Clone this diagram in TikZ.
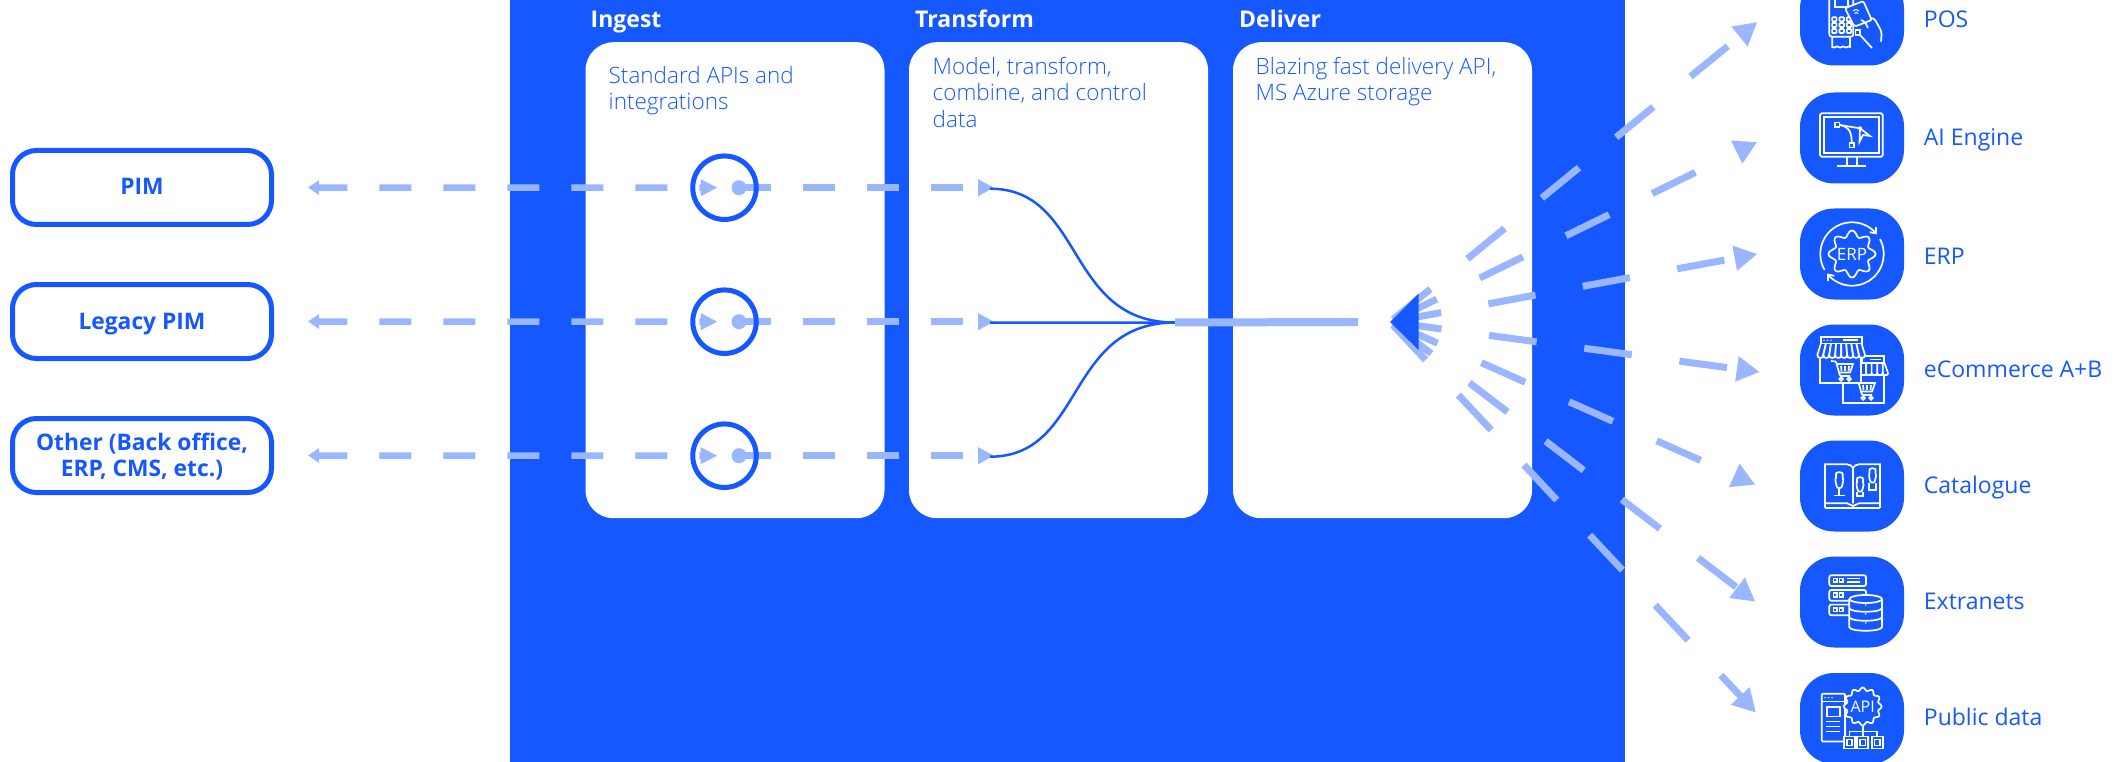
\documentclass[tikz,border=0pt]{standalone}
\usepackage{fontspec}
\setmainfont{Open Sans}
\newfontfamily\thinfont{Open Sans Light}
\usepackage{xcolor}
\usepackage{tikz}
\usetikzlibrary{arrows.meta}
\usetikzlibrary{positioning}
\definecolor{brandblue}{HTML}{1558FF}
\definecolor{flowblue}{HTML}{9AB6FF}
\tikzstyle{panel} = [rectangle, fill=brandblue, inner sep=0pt, minimum width=1115pt, minimum height=762pt]
\tikzstyle{stage} = [rectangle, fill=white, rounded corners=28pt, inner sep=0pt,
    minimum width=299pt, minimum height=476pt]
\tikzstyle{stagehead} = [anchor=base west, inner sep=0pt, text=white, font=\fontsize{23}{26}\selectfont\bfseries]
\tikzstyle{stagetext} = [anchor=north west, inner sep=0pt, align=left, text=brandblue,
    font=\fontsize{22.5}{26.5}\selectfont\thinfont]
\tikzstyle{source} = [rectangle, draw=brandblue, line width=5pt, fill=white, rounded corners=24pt,
    minimum width=259pt, minimum height=74pt, inner sep=0pt, align=center, text=brandblue,
    text depth=2pt, font=\fontsize{22.8}{26}\selectfont\bfseries]
\tikzstyle{port} = [circle, draw=brandblue, line width=5pt, minimum size=63.5pt, inner sep=0pt]
\tikzstyle{dot} = [circle, fill=flowblue, minimum size=15pt, inner sep=0pt]
\tikzstyle{inflow} = [draw=flowblue, line width=6.5pt, dash pattern=on 32pt off 32pt, dash phase=3pt,
    shorten <=35pt, shorten >=21.5pt, {Triangle[length=11pt,width=14pt]}-{Triangle[length=17pt,width=16pt]}]
\tikzstyle{outflow} = [draw=flowblue, line width=6.5pt, dash pattern=on 32pt off 32pt,
    -{Triangle[length=16pt,width=16pt]}]
\tikzstyle{wire} = [draw=brandblue, line width=2.5pt]
\tikzstyle{trunk} = [draw=flowblue, line width=8pt]
\tikzstyle{ray} = [draw=flowblue, line width=7pt, dash pattern=on 48pt off 48pt, shorten <=4pt,
    -{Triangle[length=23pt,width=24pt]}]
\tikzstyle{icon} = [rectangle, fill=brandblue, rounded corners=34pt, minimum width=104pt,
    minimum height=91pt, inner sep=0pt]
\tikzstyle{tag} = [anchor=west, inner sep=0pt, text height=17pt, text depth=3pt, text=brandblue,
    font=\fontsize{23}{26}\selectfont]
\tikzstyle{glyph} = [draw=white, line width=1.7pt]
% small white drawings inside the icons
\newcommand{\posglyph}{
  \draw [rounded corners=2.5pt] (-22.7,-40) rectangle (1.3,16.7);
  \draw (-17,-26) rectangle (-4,-13);
  \foreach \bx in {-17.7,-10.3,-3}
    \foreach \by in {-.7,5,11}
      \draw [rounded corners=.8pt] (\bx-2.2,\by-2) rectangle (\bx+2.2,\by+2);
  \draw (-19.7,16.7) -- (-19.7,27) .. controls (-17,29) and (-16,25) .. (-13.5,27)
    .. controls (-11,29) and (-10,25) .. (-7.5,27) .. controls (-5,29) and (-4,25) .. (-2,27) -- (-2,16.7);
  \filldraw [fill=brandblue, rounded corners=2pt] (-7,-11.7) -- (11.3,-19) -- (19.7,0) -- (2.3,6.7) -- cycle;
  \draw [line width=1pt] (1,-9) .. controls (3,-11) and (5,-11) .. (7,-9);
  \draw [line width=1pt] (2.5,-6.5) .. controls (3.5,-8) and (5,-8) .. (6,-6.5);
  \draw [rounded corners=3pt] (19,-2) -- (22,-2) -- (29.7,11.7) -- (29,21.7);
  \draw [rounded corners=2pt] (9,0) -- (13,2) -- (16,8);
  \draw (3.5,10) rectangle (8,15);
  \draw [rounded corners=2pt] (8,15) -- (20,28);
}
\newcommand{\monitorglyph}{
  \draw [rounded corners=1.5pt] (-32,-24.7) rectangle (30.7,18.7);
  \draw (-28,-20.7) rectangle (26.7,14.7);
  \draw (-5.3,18.7) -- (-5.3,27.7) (4.7,18.7) -- (4.7,27.7) (-15.3,27.7) -- (13.7,27.7);
  \draw (-17,-15.5) rectangle (-12.5,-11);
  \draw (-2.5,5) rectangle (2,9.5);
  \draw (-12.5,-13) .. controls (-5,-12) and (0,-8) .. (-.3,5);
  \draw (-12.5,-13) -- (8,-9.7);
  \fill [white] (8,-9.7) circle (2pt);
  \draw (8,-9.7) -- (18,-2) -- (11,-3) -- (7.5,3.7) -- cycle;
}
\newcommand{\erpglyph}{
  \draw [-{Straight Barb[length=5pt,width=8pt]}] plot[domain=150:322,samples=40] ({31.7*cos(\x)},{31.7*sin(\x)});
  \draw [-{Straight Barb[length=5pt,width=8pt]}] plot[domain=-28:142,samples=40] ({31.7*cos(\x)},{31.7*sin(\x)});
  \draw plot[domain=0:360,samples=97] ({(20.5+3*cos(8*\x))*cos(\x)},{(20.5+3*cos(8*\x))*sin(\x)});
  \node [text=white, inner sep=0pt, font=\fontsize{17}{17}\selectfont] (erpmark) at (0,0) {ERP};
}
\newcommand{\cartglyph}[2]{
  \begin{scope}[shift={(#1,#2)}]
    \draw [rounded corners=1pt] (-11,-9) -- (-6,-8.5) -- (-2,6) -- (8,6);
    \draw (-5,-6) -- (11,-6) -- (8,2.5) -- (-3,2.5);
    \draw (-1,-4) -- (-.5,1) (3,-4) -- (3,1) (7,-4) -- (6.5,1);
    \draw (-1,9) circle (1.8pt) (7,9) circle (1.8pt);
  \end{scope}
}
\newcommand{\shopglyph}{
  % small shop goes behind the large one
  \draw (-9.3,5) rectangle (32.3,33.3);
  \draw (9.7,-14) rectangle (32.3,-7.3);
  \draw (18,-10.5) -- (29,-10.5);
  \foreach \k in {0,...,3} {
    \pgfmathsetmacro{\ax}{14+5.6*\k}
    \pgfmathsetmacro{\bx}{\ax+5.6}
    \draw (\ax,-7.3) -- (\ax,3) .. controls (\ax,6) and (\bx,6) .. (\bx,3);
  }
  \draw (32.3,-7.3) -- (36,3);
  \cartglyph{12}{19}
  \filldraw [fill=brandblue] (-32,-13.3) rectangle (9,13.3);
  \filldraw [fill=brandblue] (-31.3,-33.3) rectangle (9.7,-26);
  \fill [white] (-28,-29.7) circle (.8pt) (-24.5,-29.7) circle (.8pt) (-21,-29.7) circle (.8pt);
  \draw (-9,-29.7) -- (6,-29.7);
  \foreach \k in {0,...,7} {
    \pgfmathsetmacro{\ax}{-34.7+5.96*\k}
    \pgfmathsetmacro{\bx}{\ax+5.96}
    \pgfmathsetmacro{\tx}{-31.3+5.12*\k}
    \filldraw [fill=brandblue] (\tx,-26) -- (\ax,-15) .. controls (\ax,-11) and (\bx,-11) .. (\bx,-15) -- (\tx+5.12,-26);
  }
  \cartglyph{-10}{0}
}
\newcommand{\dummyglyph}[3]{
  \begin{scope}[shift={(#1,#2)}, scale=#3]
    \draw [rounded corners=1pt] (0,-11) .. controls (-3,-11) and (-4,-9) .. (-3,-7) -- (-4,-3)
      -- (-3,2) -- (-2,5) -- (2,5) -- (3,2) -- (4,-3) -- (3,-7) .. controls (4,-9) and (3,-11) .. (0,-11);
  \end{scope}
}
\newcommand{\bookglyph}{
  \draw (-27,17.3) -- (-27,-21.7) -- (-5,-21.7) .. controls (-2,-21.7) and (0,-20) .. (1,-18) -- (1,17.3);
  \draw (1,-18) .. controls (2,-20) and (4,-21.7) .. (7,-21.7) -- (28,-21.7) -- (28,17.3);
  \draw (-27,17.3) -- (-5,17.3) -- (1,20) -- (7,17.3) -- (28,17.3);
  \draw (-27,22.3) -- (28,22.3) (-27,17.3) -- (-27,22.3) (28,17.3) -- (28,22.3);
  \dummyglyph{-12.7}{-3}{1}
  \draw (-12.7,2) -- (-12.7,9) (-18,9.5) -- (-7,9.5);
  \dummyglyph{8}{1}{.9}
  \draw (5,6) -- (5,10) -- (11,10) -- (11,6);
  \dummyglyph{20.5}{-8}{.9}
  \draw (17,-3.5) -- (17,4) -- (24,4) -- (24,-3.5);
}
\newcommand{\storageglyph}{
  \foreach \sy in {-26.7,-12,2.6} {
    \draw [rounded corners=2pt] (-22.7,\sy) rectangle (14,\sy+10.7);
    \draw (-18.5,\sy+3.3) rectangle (-15,\sy+7);
    \draw (-12.5,\sy+3.3) rectangle (-9,\sy+7);
  }
  \draw (-5,-23.5) -- (8,-23.5) (-5,-20) -- (8,-20);
  \filldraw [fill=brandblue] (-2.7,-3) -- (-2.7,25) .. controls (-2.7,30) and (30,30) .. (30,25) -- (30,-3);
  \filldraw [fill=brandblue] (13.7,-3) ellipse (16.3pt and 4pt);
  \draw (-2.7,6) .. controls (-2.7,11) and (30,11) .. (30,6);
  \draw (-2.7,15) .. controls (-2.7,20) and (30,20) .. (30,15);
  \fill [white] (13.7,3) circle (.9pt) (13.7,12) circle (.9pt) (13.7,21) circle (.9pt);
}
\newcommand{\apiglyph}{
  \draw [rounded corners=1pt] (-30.3,-24.7) rectangle (-7,23);
  \draw (-30.3,-17) -- (-7,-17);
  \fill [white] (-27,-20.8) circle (.8pt) (-23.5,-20.8) circle (.8pt) (-20,-20.8) circle (.8pt);
  \draw (-25.3,-11.4) rectangle (-12,-2);
  \draw (-26,3) -- (-12,3) (-26,8) -- (-12,8) (-26,13) -- (-12,13);
  \filldraw [fill=brandblue] plot[domain=0:360,samples=97] ({10.7+(17.5+1.5*cos(12*\x))*cos(\x)},{-12+(17.5+1.5*cos(12*\x))*sin(\x)});
  \node [text=white, inner sep=0pt, font=\fontsize{16}{16}\selectfont] (apimark) at (10.7,-12) {API};
  \draw (10.7,6.5) -- (10.7,13) (-2.5,18) -- (-2.5,13) -- (25,13) -- (25,18);
  \draw (10.7,13) -- (10.7,18);
  \foreach \bx in {-8,5.3,19.7} {
    \filldraw [fill=brandblue] (\bx,18) rectangle (\bx+11,30);
    \draw (\bx+2.8,21) rectangle (\bx+8.2,27);
  }
}

\begin{document}
\begin{tikzpicture}[x=1pt, y=-1pt, node distance=134pt]
  \useasboundingbox (0,0) rectangle (2128,762);
  % Place nodes
  \node [panel] (platform) at (1067.5,381) {};
  \node [stage] (ingest) at (735,280.2) {};
  \node [stage, right of=ingest, node distance=323.5pt] (transform) {};
  \node [stage, right of=transform, node distance=324pt] (deliver) {};
  \node [stagehead] (ingesthead) at (590.5,27.5) {Ingest};
  \node [stagehead] (transformhead) at (915,27.5) {Transform};
  \node [stagehead] (deliverhead) at (1239,27.5) {Deliver};
  \node [stagetext] (ingesttext) at (608.5,66) {Standard APIs and\\integrations};
  \node [stagetext] (transformtext) at (932.5,57) {Model, transform,\\combine, and control\\data};
  \node [stagetext] (delivertext) at (1255.5,57) {Blazing fast delivery API,\\MS Azure storage};

  \node [source, text height=17pt] (pim) at (142,187.5) {PIM};
  \node [source, text height=17pt, below of=pim] (legacy) {Legacy PIM};
  \node [source, below of=legacy] (other) {Other (Back office,\\ERP, CMS, etc.)};

  \node [dot] (dotpim) at (739,187.7) {};
  \node [dot, below of=dotpim] (dotlegacy) {};
  \node [dot, below of=dotlegacy] (dotother) {};

  \coordinate (inpim) at (994,187.7);
  \coordinate (inlegacy) at (994,321.7);
  \coordinate (inother) at (994,455.7);
  \coordinate (merge) at (1175,322.5);
  \coordinate (trunkend) at (1358,322);
  \coordinate (fantip) at (1390,322);

  \node [icon] (posicon) at (1852,20) {};
  \node [icon] (aiicon) at (1852,138) {};
  \node [icon, below of=aiicon, node distance=116pt] (erpicon) {};
  \node [icon, below of=erpicon, node distance=116pt] (shopicon) {};
  \node [icon, below of=shopicon, node distance=116pt] (bookicon) {};
  \node [icon, below of=bookicon, node distance=116pt] (storeicon) {};
  \node [icon, below of=storeicon, node distance=116.5pt] (apiicon) {};
  \node [tag, right=19.5pt of posicon, yshift=-.5pt] (postag) {POS};
  \node [tag, right=19.5pt of aiicon, yshift=-1pt] (aitag) {AI Engine};
  \node [tag, right=19.5pt of erpicon, yshift=-3pt] (erptag) {ERP};
  \node [tag, right=19.5pt of shopicon] (shoptag) {eCommerce A+B};
  \node [tag, right=19.5pt of bookicon] (booktag) {Catalogue};
  \node [tag, right=19.5pt of storeicon] (storetag) {Extranets};
  \node [tag, right=19.5pt of apiicon] (apitag) {Public data};

  \coordinate (posend) at (1757.3,22);
  \coordinate (aiend) at (1757.3,142);
  \coordinate (erpend) at (1757.3,254);
  \coordinate (shopend) at (1759.7,372);
  \coordinate (bookend) at (1755.3,484.7);
  \coordinate (storeend) at (1755.3,601.7);
  \coordinate (apiend) at (1756,712.7);

  % Draw edges
  \path [inflow] (pim.center) ++(131,0) -- (dotpim.center);
  \path [inflow] (legacy.center) ++(131,0) -- (dotlegacy.center);
  \path [inflow] (other.center) ++(131,0) -- (dotother.center);
  \path [outflow] (dotpim.center) -- (inpim);
  \path [outflow] (dotlegacy.center) -- (inlegacy);
  \path [outflow] (dotother.center) -- (inother);

  \path [wire] (inpim) ++(-4,1) .. controls (1085,188.7) and (1065,322.7) .. (merge);
  \path [wire] (inlegacy) ++(-4,1) -- (merge);
  \path [wire] (inother) ++(-4,1) .. controls (1085,456.7) and (1065,322.7) .. (merge);
  \path [trunk] (merge) -- (trunkend);

  \path [ray] (fantip) -- (posend);
  \path [ray] (fantip) -- (aiend);
  \path [ray] (fantip) -- (erpend);
  \path [ray] (fantip) -- (shopend);
  \path [ray] (fantip) -- (bookend);
  \path [ray] (fantip) -- (storeend);
  \path [ray] (fantip) -- (apiend);
  \fill [brandblue] (fantip) -- (1418.7,293.3) -- (1418.7,350) -- cycle;

  \node [port] (portpim) at (724.5,187.7) {};
  \node [port, below of=portpim] (portlegacy) {};
  \node [port, below of=portlegacy] (portother) {};

  % Icon drawings
  \begin{scope}[shift={(posicon.center)}, glyph] \posglyph \end{scope}
  \begin{scope}[shift={(aiicon.center)}, glyph] \monitorglyph \end{scope}
  \begin{scope}[shift={(erpicon.center)}, glyph] \erpglyph \end{scope}
  \begin{scope}[shift={(shopicon.center)}, glyph] \shopglyph \end{scope}
  \begin{scope}[shift={(bookicon.center)}, glyph] \bookglyph \end{scope}
  \begin{scope}[shift={(storeicon.center)}, glyph] \storageglyph \end{scope}
  \begin{scope}[shift={(apiicon.center)}, glyph] \apiglyph \end{scope}
\end{tikzpicture}
\end{document}
